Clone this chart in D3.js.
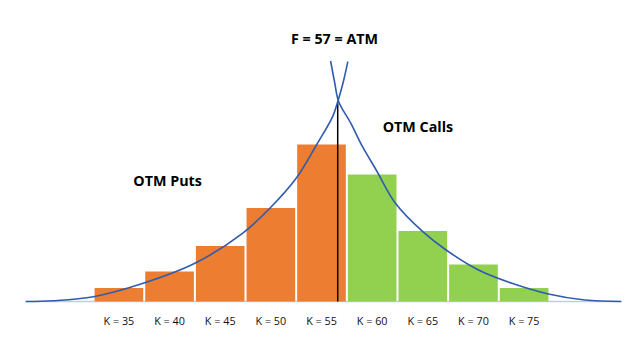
<!DOCTYPE html>
<html>
<head>
<meta charset="utf-8">
<script src="https://cdn.jsdelivr.net/npm/d3@7"></script>
<style>
  html, body { margin: 0; padding: 0; background: #fff; }
  svg text { font-family: "Open Sans", Lato, sans-serif; fill: #111; }
</style>
</head>
<body>
<div id="chart"></div>
<script>
// strikes and bar heights (relative volume)
var strikes = [35, 40, 45, 50, 55, 60, 65, 70, 75];
var barValues = [13.5, 30, 55.5, 93.5, 157, 127, 70.5, 37, 13.5];
var putStrikes = [35, 40, 45, 50, 55];

// the two curves, as [strike, value]
var putCurve = [[25.8, 0], [28.5, 0.8], [32.5, 4.8], [37.4, 18.2], [42.5, 38.2], [47.2, 68.2],
    [49.9, 93.2], [52.5, 123.2], [54.5, 156.5], [56.1, 184.8], [56.6, 199.8], [57.1, 217.5], [57.6, 239.8]];
var callCurve = [[55.9, 240.5], [56.3, 219], [56.7, 199.8], [57.9, 178.2], [59.05, 154.8], [60.4, 131.5],
    [62.3, 98.2], [65.0, 69.8], [67.3, 51.5], [70.5, 31.5], [73.8, 18.2], [77.4, 7.5], [81.0, 1.5], [84.6, 0]];

var forward = 57;
var atmLineK = 56.6;   // where the vertical line sits in the picture (curves cross)
var atmLineTop = 199.8;

var width = 640, height = 360;

var svg = d3.select('#chart').append('svg')
    .attr('width', width)
    .attr('height', height);

var x = d3.scaleLinear().domain([35, 75]).range([118.9, 524.1]);
var y = d3.scaleLinear().domain([0, 240]).range([301.5, 61.5]);
var step = x(40) - x(35);

// baseline
svg.append('line')
    .attr('x1', x(25.8)).attr('x2', x(84.6))
    .attr('y1', y(0)).attr('y2', y(0))
    .style('stroke', '#c3cde0')
    .style('stroke-width', 1.5);

// bars
svg.selectAll('.bar')
    .data(strikes)
    .enter()
    .append('rect')
    .attr('class', 'bar')
    .attr('x', function(d) { return x(d) - step / 2 + 1; })
    .attr('width', step - 2)
    .attr('y', function(d, i) { return y(barValues[i]); })
    .attr('height', function(d, i) { return y(0) - y(barValues[i]); })
    .style('fill', function(d) { return putStrikes.indexOf(d) >= 0 ? '#ed7d31' : '#92d050'; });

// ATM line
svg.append('line')
    .attr('x1', x(atmLineK)).attr('x2', x(atmLineK))
    .attr('y1', y(atmLineTop)).attr('y2', y(0))
    .style('stroke', '#000')
    .style('stroke-width', 1.5);

// curves
var line = d3.line()
    .x(function(d) { return x(d[0]); })
    .y(function(d) { return y(d[1]); })
    .curve(d3.curveCatmullRom);

[putCurve, callCurve].forEach(function(c) {
    svg.append('path')
        .attr('d', line(c))
        .style('fill', 'none')
        .style('stroke', '#2f5caf')
        .style('stroke-width', 1.6);
});

// strike labels
svg.selectAll('.klabel')
    .data(strikes)
    .enter()
    .append('text')
    .attr('class', 'klabel')
    .attr('x', function(d) { return x(d); })
    .attr('y', 324.5)
    .attr('text-anchor', 'middle')
    .style('font-size', '10.8px')
    .text(function(d) { return 'K = ' + d; });

// annotations
svg.append('text')
    .attr('x', 334.5).attr('y', 43.5)
    .attr('text-anchor', 'middle')
    .style('font-size', '14.3px')
    .style('font-weight', 'bold')
    .style('fill', '#000')
    .text('F = ' + forward + ' = ATM');

svg.append('text')
    .attr('x', 133.3).attr('y', 185.5)
    .style('font-size', '14.3px')
    .style('font-weight', 'bold')
    .style('fill', '#000')
    .text('OTM Puts');

svg.append('text')
    .attr('x', 382.7).attr('y', 132.3)
    .style('font-size', '14.3px')
    .style('font-weight', 'bold')
    .style('fill', '#000')
    .text('OTM Calls');
</script>
</body>
</html>
